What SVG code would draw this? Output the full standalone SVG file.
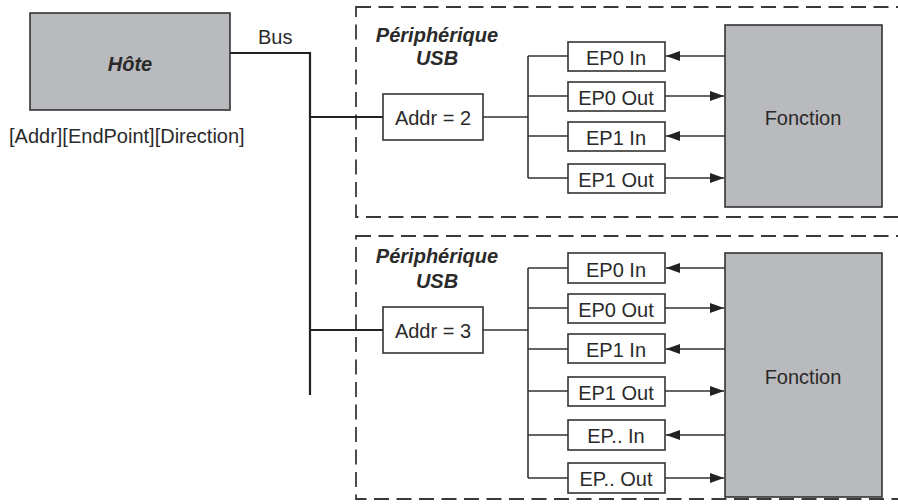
<svg xmlns="http://www.w3.org/2000/svg" width="898" height="504" viewBox="0 0 898 504">
<style>
text{font-family:"Liberation Sans",Arial,sans-serif;font-size:20px;fill:#2a2a2a}
.bi{font-weight:bold;font-style:italic}
.gray{fill:#b9babd;stroke:#333;stroke-width:1.6}
.box{fill:#fff;stroke:#333;stroke-width:1.6}
.dash{fill:none;stroke:#3a3a3a;stroke-width:1.8;stroke-dasharray:15 7.5}
.bus{fill:none;stroke:#222;stroke-width:2.2}
.ln{fill:none;stroke:#333;stroke-width:1.6}
</style>
<defs>
<marker id="ah" viewBox="0 0 14 10" refX="14" refY="5" markerWidth="14" markerHeight="10" markerUnits="userSpaceOnUse" orient="auto">
<path d="M0,0 L14,5 L0,10 Z" fill="#222"/>
</marker>
</defs>

<g id="dev1-frame"><rect class="dash" x="356" y="7" width="560" height="210"/></g>
<g id="dev2-frame"><rect class="dash" x="356" y="236" width="560" height="263"/></g>

<g id="connectors">
<path class="bus" d="M230,53 H310 V395 M310,117 H383 M310,330 H383"/>
<path class="ln" d="M483,117 H528 M528,56 V178 M528,56 H568 M528,96 H568 M528,136 H568 M528,178 H568"/>
<path class="ln" d="M483,330 H528 M528,268 V478 M528,268 H568 M528,308 H568 M528,349 H568 M528,391 H568 M528,435 H568 M528,478 H568"/>
<g class="ln" marker-end="url(#ah)">
<line x1="725" y1="56" x2="666" y2="56"/>
<line x1="665" y1="96" x2="724" y2="96"/>
<line x1="725" y1="136" x2="666" y2="136"/>
<line x1="665" y1="178" x2="724" y2="178"/>
<line x1="725" y1="268" x2="666" y2="268"/>
<line x1="665" y1="308" x2="724" y2="308"/>
<line x1="725" y1="349" x2="666" y2="349"/>
<line x1="665" y1="391" x2="724" y2="391"/>
<line x1="725" y1="435" x2="666" y2="435"/>
<line x1="665" y1="478" x2="724" y2="478"/>
</g>
</g>

<g id="host">
<rect class="gray" x="30" y="13" width="200" height="97"/>
<text class="bi" x="130" y="71" text-anchor="middle">Hôte</text>
</g>
<text x="258" y="44">Bus</text>
<text x="9" y="143">[Addr][EndPoint][Direction]</text>

<g id="dev1-label">
<text class="bi" x="437" y="42" text-anchor="middle">Périphérique</text>
<text class="bi" x="437" y="65" text-anchor="middle">USB</text>
</g>
<g id="addr2"><rect class="box" x="383" y="94" width="100" height="46"/><text x="433" y="125" text-anchor="middle">Addr = 2</text></g>
<g id="d1-ep0in"><rect class="box" x="568" y="42" width="97" height="29"/><text x="616" y="65" text-anchor="middle">EP0 In</text></g>
<g id="d1-ep0out"><rect class="box" x="568" y="82" width="97" height="29"/><text x="616" y="105" text-anchor="middle">EP0 Out</text></g>
<g id="d1-ep1in"><rect class="box" x="568" y="122" width="97" height="29"/><text x="616" y="145" text-anchor="middle">EP1 In</text></g>
<g id="d1-ep1out"><rect class="box" x="568" y="164" width="97" height="29"/><text x="616" y="187" text-anchor="middle">EP1 Out</text></g>
<g id="fonction1"><rect class="gray" x="725" y="25" width="157" height="182"/><text x="803" y="125" text-anchor="middle">Fonction</text></g>

<g id="dev2-label">
<text class="bi" x="437" y="263" text-anchor="middle">Périphérique</text>
<text class="bi" x="437" y="288" text-anchor="middle">USB</text>
</g>
<g id="addr3"><rect class="box" x="383" y="307" width="100" height="46"/><text x="433" y="338" text-anchor="middle">Addr = 3</text></g>
<g id="d2-ep0in"><rect class="box" x="568" y="253" width="97" height="30"/><text x="616" y="277" text-anchor="middle">EP0 In</text></g>
<g id="d2-ep0out"><rect class="box" x="568" y="294" width="97" height="29"/><text x="616" y="317" text-anchor="middle">EP0 Out</text></g>
<g id="d2-ep1in"><rect class="box" x="568" y="334" width="97" height="29"/><text x="616" y="357" text-anchor="middle">EP1 In</text></g>
<g id="d2-ep1out"><rect class="box" x="568" y="377" width="97" height="29"/><text x="616" y="400" text-anchor="middle">EP1 Out</text></g>
<g id="d2-epxin"><rect class="box" x="568" y="420" width="97" height="30"/><text x="616" y="443" text-anchor="middle">EP.. In</text></g>
<g id="d2-epxout"><rect class="box" x="568" y="463" width="97" height="30"/><text x="616" y="486" text-anchor="middle">EP.. Out</text></g>
<g id="fonction2"><rect class="gray" x="725" y="253" width="157" height="244"/><text x="803" y="384" text-anchor="middle">Fonction</text></g>
</svg>
